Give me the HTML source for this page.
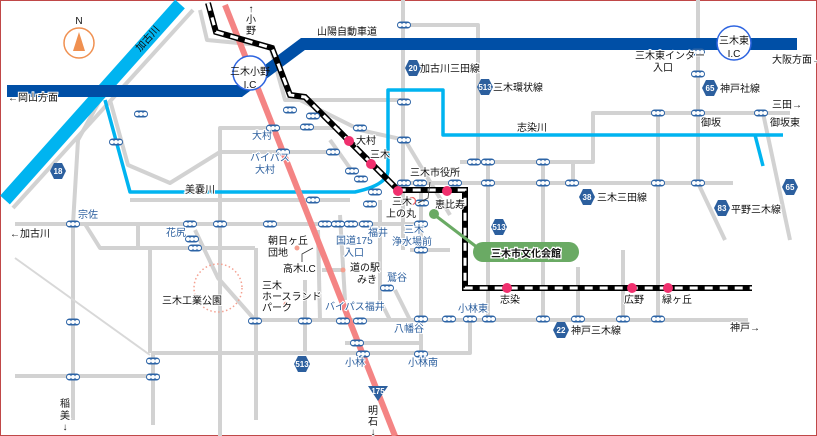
<!DOCTYPE html>
<html><head><meta charset="utf-8"><style>
html,body{margin:0;padding:0;background:#fff;}
svg{display:block;}
text{font-family:"Liberation Sans","Noto Sans CJK JP",sans-serif;font-size:10px;}
.b text{fill:#2c5f9e;stroke:#fff;stroke-width:2;paint-order:stroke;}
.k text{fill:#111;stroke:#fff;stroke-width:2;paint-order:stroke;}
.h text{fill:#fff;font-size:8px;font-weight:bold;}
</style></head><body>
<svg width="817" height="436" viewBox="0 0 817 436" xmlns="http://www.w3.org/2000/svg">
<defs>
<g id="bs"><rect x="-7" y="-3.5" width="14" height="7" rx="3.5" fill="#2d64a6"/><circle cx="-4" cy="0" r="2" fill="#fff"/><circle cx="0" cy="0" r="2" fill="#fff"/><circle cx="4" cy="0" r="2" fill="#fff"/></g>
<polygon id="hx" points="-4,-8 4,-8 8,0 4,8 -4,8 -8,0" fill="#2c5f9e"/>
</defs>
<rect x="0.5" y="0.5" width="816" height="435" fill="#fff" stroke="#c04848"/>

<g stroke="#d2d2d2" stroke-width="4" fill="none" stroke-linejoin="round">
<path d="M13,208 L193,10"/>
<path d="M200,10 L207,40 L270,46 L285,100 L405,100"/>
<path d="M403,0 L403,250"/>
<path d="M403,25 L478,25 L478,162"/>
<path d="M220,436 L220,128 L340,128"/>
<path d="M220,152 L330,152"/>
<path d="M110,100 L128,165 L170,183 L220,152"/>
<path d="M130,200 L350,200"/>
<path d="M100,100 L78,140 L73,224 L73,420"/>
<path d="M15,224 L420,224"/>
<path d="M85,224 L100,248 L255,248"/>
<path d="M138,224 L138,248"/>
<path d="M150,248 L150,353"/>
<path d="M195,230 L218,278 L255,320"/>
<path d="M256,248 L256,420"/>
<path d="M250,320 L748,320"/>
<path d="M305,280 L305,353"/>
<path d="M15,376 L160,376"/>
<path d="M153,425 L153,353 L470,353 L470,320"/>
<path d="M345,343 L420,343"/>
<path d="M460,162 L593,162 L593,113 L790,113"/>
<path d="M400,183 L733,183"/>
<path d="M698,0 L698,183 L725,240"/>
<path d="M763,113 L790,240"/>
<path d="M658,113 L658,320"/>
<path d="M573,162 L573,183"/>
<path d="M623,250 L623,320"/>
<path d="M578,267 L578,320"/>
<path d="M543,162 L543,320"/>
<path d="M488,160 L488,320"/>
<path d="M421,190 L421,360"/>
<path d="M405,140 L450,215"/>
<path d="M300,100 L360,130 L405,140"/>
<path d="M330,140 L352,171"/>
<path d="M380,200 L380,300 L390,320"/>
<path d="M340,215 L345,300"/>
<path d="M322,270 L345,270"/>
<path d="M318,230 L320,320"/>
<path d="M410,250 L450,250"/>
<path d="M395,290 L410,320"/>
</g>
<path d="M15,258 L150,355" stroke="#d8d8d8" stroke-width="2" fill="none"/>

<g stroke="#00b4f0" stroke-width="3.5" fill="none" stroke-linejoin="round">
<path d="M105,100 L130,192 L355,192 Q388,185 388,170 L388,90 L443,90 L443,135 L783,135"/>
<path d="M755,135 L763,166"/>
</g>
<path d="M5,200 L180,4" stroke="#00b4f0" stroke-width="13" fill="none"/>
<text x="140" y="52" transform="rotate(-48 140 52)" fill="#111" font-size="10">加古川</text>

<path d="M7,91 L240,91 L303,44 L797,44" stroke="#004fa6" stroke-width="12" fill="none" stroke-linejoin="miter"/>

<path d="M225,5 L395,436" stroke="#f48484" stroke-width="6" fill="none"/>

<g fill="none" stroke-linejoin="miter">
<path d="M208,3 L216,32 L272,48 L290,95 L305,97 L398,190 L465,190 L465,288 L752,288" stroke="#000" stroke-width="6"/>
<path d="M208,3 L216,32 L272,48 L290,95 L305,97 L398,190 L465,190 L465,288 L752,288" stroke="#fff" stroke-width="3" stroke-dasharray="8,7"/>
</g>

<circle cx="250" cy="73" r="17" fill="#fff" stroke="#2d64e0" stroke-width="1.5"/>
<text x="250" y="75" text-anchor="middle" fill="#111" font-size="9">三木小野</text>
<text x="250" y="88" text-anchor="middle" fill="#111" font-size="9">I.C</text>
<circle cx="734" cy="43" r="17" fill="#fff" stroke="#2d64e0" stroke-width="1.5"/>
<text x="734" y="44" text-anchor="middle" fill="#111" font-size="9">三木東</text>
<text x="734" y="57" text-anchor="middle" fill="#111" font-size="9">I.C</text>

<circle cx="79" cy="43" r="15" fill="#fff" stroke="#f09050" stroke-width="1.5"/>
<polygon points="79,32 73,51 85,51" fill="#f09050"/>
<text x="79" y="24" text-anchor="middle" fill="#111" font-size="9">N</text>

<circle cx="218" cy="288" r="24" fill="none" stroke="#f4a090" stroke-width="1.5" stroke-dasharray="1.5,2.5"/>

<g>
<use href="#bs" x="141" y="114"/><use href="#bs" x="116" y="142"/><use href="#bs" x="290" y="110"/><use href="#bs" x="313" y="116"/>
<use href="#bs" x="273" y="128"/><use href="#bs" x="307" y="127"/><use href="#bs" x="360" y="128"/><use href="#bs" x="283" y="152"/>
<use href="#bs" x="333" y="152"/><use href="#bs" x="352" y="171"/><use href="#bs" x="361" y="179"/><use href="#bs" x="375" y="192"/>
<use href="#bs" x="313" y="200"/><use href="#bs" x="404" y="25"/><use href="#bs" x="404" y="102"/><use href="#bs" x="404" y="140"/>
<use href="#bs" x="404" y="183"/><use href="#bs" x="420" y="183"/><use href="#bs" x="455" y="183"/><use href="#bs" x="474" y="162"/>
<use href="#bs" x="488" y="162"/><use href="#bs" x="488" y="183"/><use href="#bs" x="543" y="162"/><use href="#bs" x="543" y="183"/>
<use href="#bs" x="572" y="183"/><use href="#bs" x="658" y="113"/><use href="#bs" x="698" y="113"/><use href="#bs" x="761" y="113"/>
<use href="#bs" x="658" y="183"/><use href="#bs" x="698" y="183"/><use href="#bs" x="698" y="52"/><use href="#bs" x="698" y="74"/>
<use href="#bs" x="422" y="203"/><use href="#bs" x="370" y="204"/>
<use href="#bs" x="73" y="224"/><use href="#bs" x="190" y="224"/><use href="#bs" x="220" y="224"/><use href="#bs" x="270" y="224"/>
<use href="#bs" x="325" y="224"/><use href="#bs" x="338" y="224"/><use href="#bs" x="351" y="224"/><use href="#bs" x="366" y="224"/>
<use href="#bs" x="192" y="239"/><use href="#bs" x="195" y="248"/><use href="#bs" x="73" y="322"/><use href="#bs" x="255" y="321"/>
<use href="#bs" x="305" y="321"/><use href="#bs" x="343" y="321"/><use href="#bs" x="360" y="321"/><use href="#bs" x="153" y="361"/>
<use href="#bs" x="73" y="377"/><use href="#bs" x="153" y="377"/><use href="#bs" x="357" y="343"/><use href="#bs" x="363" y="354"/>
<use href="#bs" x="387" y="288"/><use href="#bs" x="421" y="224"/><use href="#bs" x="421" y="250"/><use href="#bs" x="421" y="319"/>
<use href="#bs" x="449" y="319"/><use href="#bs" x="470" y="319"/><use href="#bs" x="489" y="319"/><use href="#bs" x="543" y="319"/>
<use href="#bs" x="578" y="319"/><use href="#bs" x="623" y="319"/><use href="#bs" x="658" y="319"/><use href="#bs" x="421" y="354"/>
</g>

<g fill="#f0306e">
<circle cx="349" cy="141" r="5"/><circle cx="371" cy="164" r="5"/><circle cx="398" cy="191" r="5"/><circle cx="447" cy="191" r="5"/>
<circle cx="507" cy="288" r="5"/><circle cx="632" cy="288" r="5"/><circle cx="668" cy="288" r="5"/>
</g>
<circle cx="412" cy="201" r="3.5" fill="none" stroke="#f06060" stroke-width="1.2"/>
<path d="M418,203 L428,198 L430,182" stroke="#333" stroke-width="0.8" fill="none"/>
<g fill="#f4a090"><circle cx="297" cy="248" r="2.5"/><circle cx="343" cy="270" r="2.5"/><circle cx="286" cy="304" r="2.5"/></g>
<path d="M302,262 L302,254 L313,248" stroke="#333" stroke-width="0.8" fill="none"/>

<g class="h">
<use href="#hx" x="58" y="171"/><text x="58" y="174" text-anchor="middle">18</text>
<use href="#hx" x="413" y="68"/><text x="413" y="71" text-anchor="middle">20</text>
<use href="#hx" x="485" y="87"/><text x="485" y="90" text-anchor="middle">513</text>
<use href="#hx" x="710" y="88"/><text x="710" y="91" text-anchor="middle">65</text>
<use href="#hx" x="790" y="187"/><text x="790" y="190" text-anchor="middle">65</text>
<use href="#hx" x="587" y="197"/><text x="587" y="200" text-anchor="middle">38</text>
<use href="#hx" x="722" y="208"/><text x="722" y="211" text-anchor="middle">83</text>
<use href="#hx" x="499" y="227"/><text x="499" y="230" text-anchor="middle">513</text>
<use href="#hx" x="561" y="330"/><text x="561" y="333" text-anchor="middle">22</text>
<use href="#hx" x="302" y="364"/><text x="302" y="367" text-anchor="middle">513</text>
<polygon points="368,386 388,386 378,401" fill="#2c5f9e"/><text x="378" y="394" text-anchor="middle">175</text>
</g>

<circle cx="434" cy="214" r="5" fill="#6aaa64"/>
<path d="M436,216 L478,248" stroke="#6aaa64" stroke-width="3"/>
<rect x="473" y="242" width="106" height="20" rx="10" fill="#6aaa64"/>
<text x="526" y="257" text-anchor="middle" font-size="13" font-weight="bold" fill="#111" stroke="#fff" stroke-width="2.5" paint-order="stroke">三木市文化会館</text>

<g class="k">
<text x="251" y="12" text-anchor="middle">↑</text><text x="251" y="23" text-anchor="middle">小</text><text x="251" y="34" text-anchor="middle">野</text>
<text x="347" y="35" text-anchor="middle">山陽自動車道</text>
<text x="8" y="101">←岡山方面</text>
<text x="356" y="144">大村</text><text x="370" y="158">三木</text>
<text x="392" y="205">三木</text><text x="386" y="217">上の丸</text>
<text x="185" y="193">美嚢川</text>
<text x="10" y="237">←加古川</text>
<text x="268" y="244">朝日ヶ丘</text><text x="268" y="256">団地</text>
<text x="283" y="272">高木I.C</text>
<text x="350" y="271">道の駅</text><text x="357" y="283">みき</text>
<text x="262" y="289">三木</text><text x="262" y="300">ホースランド</text><text x="262" y="311">パーク</text>
<text x="162" y="304">三木工業公園</text>
<text x="410" y="176">三木市役所</text>
<text x="435" y="208">恵比寿</text>
<text x="420" y="72">加古川三田線</text>
<text x="493" y="91">三木環状線</text>
<text x="635" y="59">三木東インター</text><text x="653" y="71">入口</text>
<text x="772" y="63">大阪方面→</text>
<text x="720" y="92">神戸社線</text>
<text x="772" y="108">三田→</text>
<text x="701" y="126">御坂</text><text x="770" y="126">御坂東</text>
<text x="517" y="131">志染川</text>
<text x="597" y="201">三木三田線</text>
<text x="731" y="213">平野三木線</text>
<text x="500" y="303">志染</text><text x="624" y="303">広野</text><text x="662" y="303">緑ヶ丘</text>
<text x="571" y="334">神戸三木線</text>
<text x="730" y="331">神戸→</text>
<text x="65" y="407" text-anchor="middle">稲</text><text x="65" y="419" text-anchor="middle">美</text><text x="65" y="430" text-anchor="middle">↓</text>
<text x="373" y="414" text-anchor="middle">明</text><text x="373" y="425" text-anchor="middle">石</text><text x="373" y="435" text-anchor="middle">↓</text>
</g>
<g class="b">
<text x="252" y="139">大村</text>
<text x="250" y="161">バイパス</text><text x="255" y="173">大村</text>
<text x="78" y="218">宗佐</text>
<text x="166" y="236">花尻</text>
<text x="336" y="244">国道175</text><text x="344" y="256">入口</text>
<text x="368" y="236">福井</text>
<text x="404" y="233">三木</text><text x="392" y="245">浄水場前</text>
<text x="387" y="281">鷲谷</text>
<text x="325" y="310">バイパス福井</text>
<text x="394" y="332">八幡谷</text>
<text x="345" y="366">小林</text>
<text x="408" y="366">小林南</text>
<text x="458" y="312">小林東</text>
</g>
</svg>
</body></html>
